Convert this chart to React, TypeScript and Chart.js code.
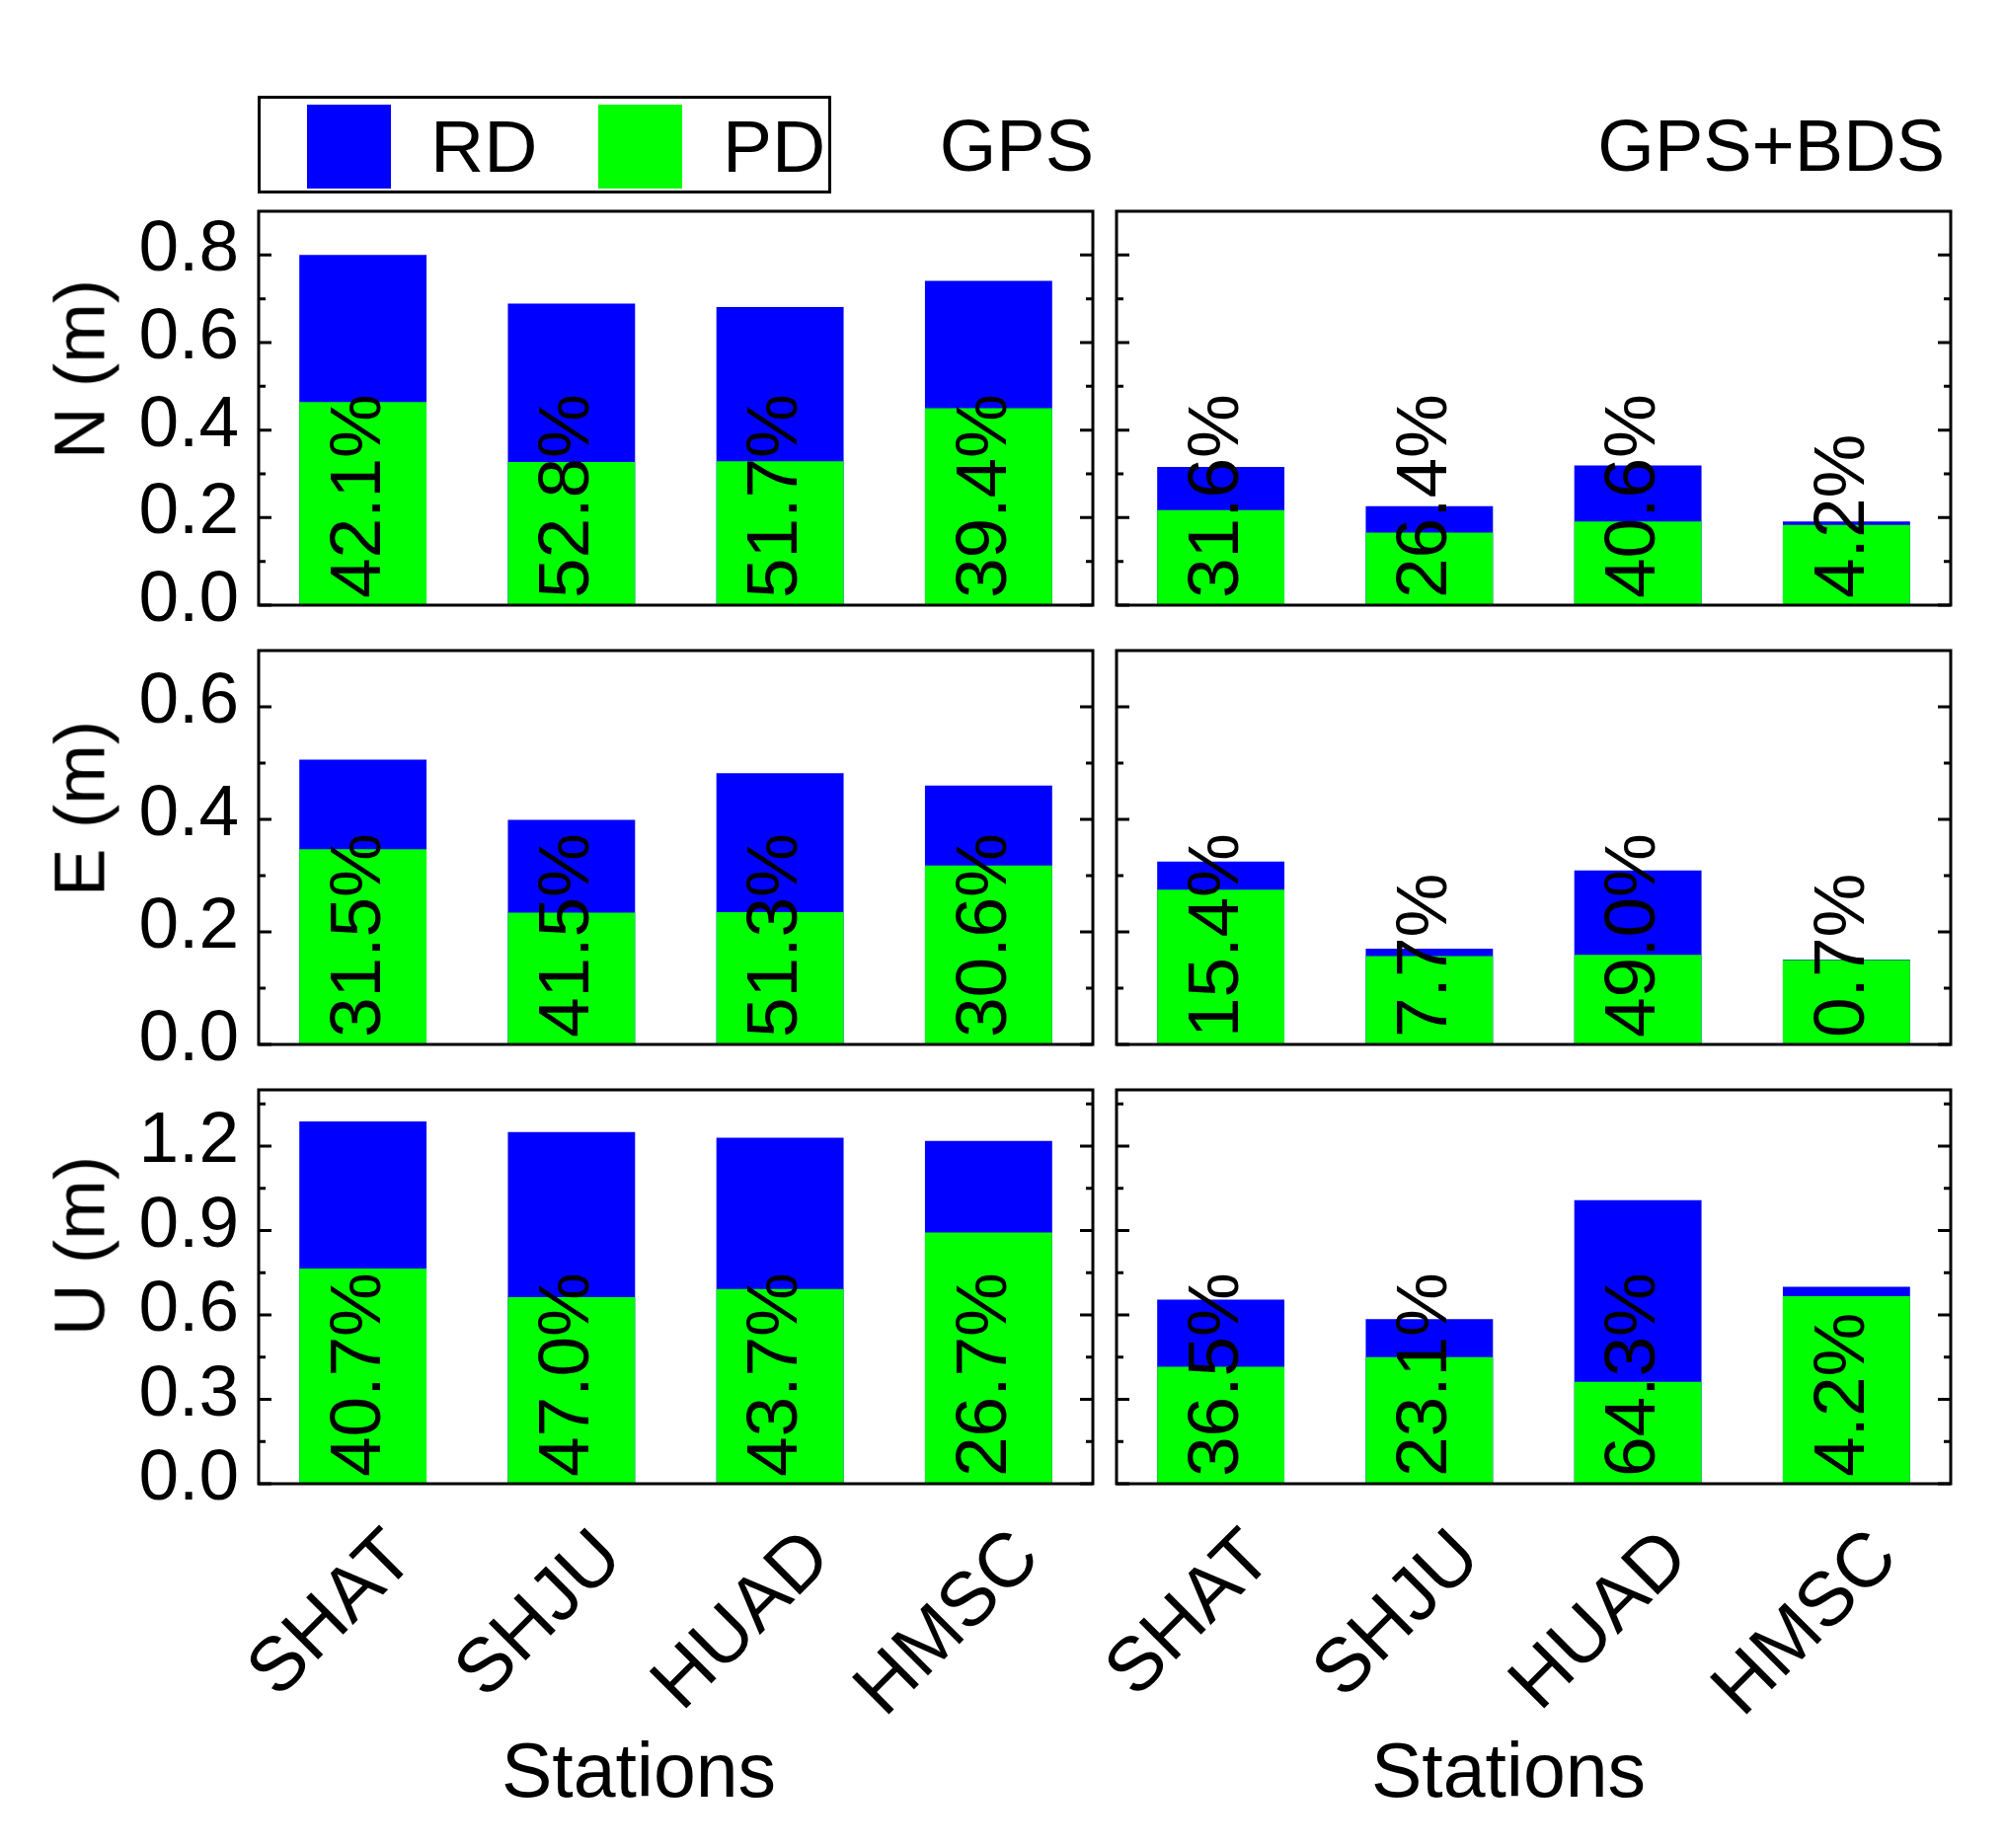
import React, { useEffect, useRef } from 'react';
import { Chart, registerables } from 'chart.js';

Chart.register(...registerables);

const FONT = "'Liberation Sans', Arial, sans-serif";

// ---------- data ----------
const STATIONS = ['SHAT', 'SHJU', 'HUAD', 'HMSC'];
const SERIES_NAMES = ['RD', 'PD'];
const COLUMN_TITLES = ['GPS', 'GPS+BDS'];
const ROW_TITLES = ['N (m)', 'E (m)', 'U (m)'];
const X_TITLE = 'Stations';

const N_GPS_RD = [0.8, 0.689, 0.681, 0.741];
const N_GPS_PD = [0.464, 0.327, 0.329, 0.45];
const N_GPS_PCT = ['42.1%', '52.8%', '51.7%', '39.4%'];
const N_BDS_RD = [0.316, 0.226, 0.319, 0.191];
const N_BDS_PD = [0.217, 0.166, 0.191, 0.183];
const N_BDS_PCT = ['31.6%', '26.4%', '40.6%', '4.2%'];

const E_GPS_RD = [0.506, 0.399, 0.482, 0.46];
const E_GPS_PD = [0.347, 0.234, 0.235, 0.318];
const E_GPS_PCT = ['31.5%', '41.5%', '51.3%', '30.6%'];
const E_BDS_RD = [0.325, 0.17, 0.309, 0.151];
const E_BDS_PD = [0.275, 0.157, 0.159, 0.15];
const E_BDS_PCT = ['15.4%', '7.7%', '49.0%', '0.7%'];

const U_GPS_RD = [1.288, 1.25, 1.23, 1.218];
const U_GPS_PD = [0.765, 0.663, 0.692, 0.893];
const U_GPS_PCT = ['40.7%', '47.0%', '43.7%', '26.7%'];
const U_BDS_RD = [0.654, 0.585, 1.008, 0.7];
const U_BDS_PD = [0.416, 0.45, 0.362, 0.667];
const U_BDS_PCT = ['36.5%', '23.1%', '64.3%', '4.2%'];

const N_MAX = 0.9;
const N_MAJOR = [0, 0.2, 0.4, 0.6, 0.8];
const N_MINOR = [0.1, 0.3, 0.5, 0.7];
const E_MAX = 0.7;
const E_MAJOR = [0, 0.2, 0.4, 0.6];
const E_MINOR = [0.1, 0.3, 0.5];
const U_MAX = 1.4;
const U_MAJOR = [0, 0.3, 0.6, 0.9, 1.2];
const U_MINOR = [0.15, 0.45, 0.75, 1.05, 1.35];

const RD_COLOR = '#0000FF';
const PD_COLOR = '#00FF00';

// ---------- layout ----------
const PLOT_LEFT = [262, 1131];
const PLOT_W = 845;
const ROW_TOP = [214, 659, 1104];
const PLOT_H = 399;

const ROWS = [
  { max: N_MAX, major: N_MAJOR, minor: N_MINOR, panels: [
    { rd: N_GPS_RD, pd: N_GPS_PD, pct: N_GPS_PCT },
    { rd: N_BDS_RD, pd: N_BDS_PD, pct: N_BDS_PCT },
  ] },
  { max: E_MAX, major: E_MAJOR, minor: E_MINOR, panels: [
    { rd: E_GPS_RD, pd: E_GPS_PD, pct: E_GPS_PCT },
    { rd: E_BDS_RD, pd: E_BDS_PD, pct: E_BDS_PCT },
  ] },
  { max: U_MAX, major: U_MAJOR, minor: U_MINOR, panels: [
    { rd: U_GPS_RD, pd: U_GPS_PD, pct: U_GPS_PCT },
    { rd: U_BDS_RD, pd: U_BDS_PD, pct: U_BDS_PCT },
  ] },
];

type PanelProps = {
  row: number;
  col: number;
  rd: number[];
  pd: number[];
  pct: string[];
  max: number;
  major: number[];
  minor: number[];
};

function Panel({ row, col, rd, pd, pct, max, major, minor }: PanelProps) {
  const ref = useRef<HTMLCanvasElement>(null);
  const padL = col === 0 ? 200 : 160;
  const padT = 60;
  const padR = 20;
  const padB = row === 2 ? 260 : 60;
  const w = padL + PLOT_W + padR;
  const h = padT + PLOT_H + padB;
  const left = PLOT_LEFT[col] - padL;
  const top = ROW_TOP[row] - padT;

  useEffect(() => {
    const framePlugin = {
      id: 'frameAndLabels',
      afterDatasetsDraw(chart: any) {
        const { ctx, chartArea } = chart;
        const yScale = chart.scales.y;
        ctx.save();
        // percentage labels
        const meta = chart.getDatasetMeta(1);
        ctx.font = `73px ${FONT}`;
        ctx.fillStyle = '#000';
        ctx.textBaseline = 'middle';
        ctx.textAlign = 'left';
        meta.data.forEach((bar: any, i: number) => {
          ctx.save();
          ctx.translate(bar.x - 3, chartArea.bottom - 7);
          ctx.rotate(-Math.PI / 2);
          ctx.fillText(pct[i], 0, 0);
          ctx.restore();
        });
        // frame
        ctx.strokeStyle = '#000';
        ctx.lineWidth = 3;
        ctx.strokeRect(chartArea.left, chartArea.top, chartArea.right - chartArea.left, chartArea.bottom - chartArea.top);
        const tick = (v: number, len: number) => {
          const y = yScale.getPixelForValue(v);
          ctx.beginPath();
          ctx.moveTo(chartArea.left, y);
          ctx.lineTo(chartArea.left + len, y);
          ctx.moveTo(chartArea.right, y);
          ctx.lineTo(chartArea.right - len, y);
          ctx.stroke();
        };
        major.forEach((v) => tick(v, 13));
        minor.forEach((v) => tick(v, 7));
        ctx.restore();
      },
    };

    const chart = new Chart(ref.current as HTMLCanvasElement, {
      type: 'bar',
      data: {
        labels: STATIONS,
        datasets: [
          { label: SERIES_NAMES[0], data: rd, backgroundColor: RD_COLOR, borderWidth: 0, order: 1, grouped: false } as any,
          { label: SERIES_NAMES[1], data: pd, backgroundColor: PD_COLOR, borderWidth: 0, order: 0, grouped: false } as any,
        ],
      },
      options: {
        animation: false,
        responsive: false,
        devicePixelRatio: 1,
        layout: { padding: { left: 0, top: padT, right: padR, bottom: 0 } },
        plugins: { legend: { display: false }, tooltip: { enabled: false } },
        datasets: { bar: { barPercentage: 0.61, categoryPercentage: 1 } },
        scales: {
          x: {
            type: 'category',
            offset: true,
            grid: { display: false },
            border: { display: false },
            ticks: {
              display: row === 2,
              minRotation: 45,
              maxRotation: 45,
              autoSkip: false,
              padding: 22,
              labelOffset: 40,
              color: '#000',
              font: { family: FONT, size: 77 },
            },
            afterFit: (s: any) => { s.height = padB; },
          },
          y: {
            type: 'linear',
            min: 0,
            max: max,
            grid: { display: false },
            border: { display: false },
            ticks: {
              display: col === 0,
              padding: 12,
              labelOffset: -4,
              color: '#000',
              font: { family: FONT, size: 73 },
              callback: (v: any) => Number(v).toFixed(1),
            },
            afterBuildTicks: (s: any) => { s.ticks = major.map((v) => ({ value: v })); },
            afterFit: (s: any) => { s.width = padL; },
          },
        },
      } as any,
      plugins: [framePlugin],
    });
    return () => chart.destroy();
  }, []);

  return (
    <canvas
      ref={ref}
      width={w}
      height={h}
      style={{ position: 'absolute', left, top, width: w, height: h }}
    />
  );
}

const ASC = 0.8465;

function Text({ text, x, baseline, size = 74, align = 'left' }: { text: string; x: number; baseline: number; size?: number; align?: string }) {
  const style: any = {
    position: 'absolute',
    top: baseline - ASC * size,
    fontSize: size,
    lineHeight: '1',
    whiteSpace: 'nowrap',
    color: '#000',
    fontFamily: FONT,
  };
  if (align === 'left') style.left = x;
  else if (align === 'right') style.right = 2032 - x;
  else { style.left = x; style.transform = 'translateX(-50%)'; }
  return <div style={style}>{text}</div>;
}

function VText({ text, cx, cy, size = 73 }: { text: string; cx: number; cy: number; size?: number }) {
  return (
    <div
      style={{
        position: 'absolute',
        left: cx,
        top: cy,
        fontSize: size,
        lineHeight: '1',
        whiteSpace: 'nowrap',
        fontFamily: FONT,
        color: '#000',
        transform: 'translate(-50%, -50%) rotate(-90deg)',
      }}
    >
      {text}
    </div>
  );
}

export default function App() {
  const rowTitleCy = [374, 819, 1262];
  return (
    <div style={{ position: 'absolute', left: 0, top: 0, width: 2032, height: 1872, background: '#fff', overflow: 'hidden', fontFamily: FONT }}>
      {/* legend */}
      <div style={{ position: 'absolute', left: 261, top: 97, width: 581, height: 99, border: '3px solid #000', boxSizing: 'border-box' }} />
      <div style={{ position: 'absolute', left: 311, top: 106, width: 85, height: 85, background: RD_COLOR }} />
      <Text text={SERIES_NAMES[0]} x={436} baseline={174} size={75} />
      <div style={{ position: 'absolute', left: 606, top: 106, width: 85, height: 85, background: PD_COLOR }} />
      <Text text={SERIES_NAMES[1]} x={732} baseline={174} size={75} />

      <Text text={COLUMN_TITLES[0]} x={1108} baseline={174} align="right" />
      <Text text={COLUMN_TITLES[1]} x={1970} baseline={174} align="right" />

      {ROWS.map((r, ri) =>
        r.panels.map((p, ci) => (
          <Panel key={`${ri}-${ci}`} row={ri} col={ci} rd={p.rd} pd={p.pd} pct={p.pct} max={r.max} major={r.major} minor={r.minor} />
        ))
      )}

      {ROW_TITLES.map((t, i) => (
        <VText key={t} text={t} cx={80} cy={rowTitleCy[i]} />
      ))}

      <Text text={X_TITLE} x={647} baseline={1820} size={77} align="center" />
      <Text text={X_TITLE} x={1528} baseline={1820} size={77} align="center" />
    </div>
  );
}
